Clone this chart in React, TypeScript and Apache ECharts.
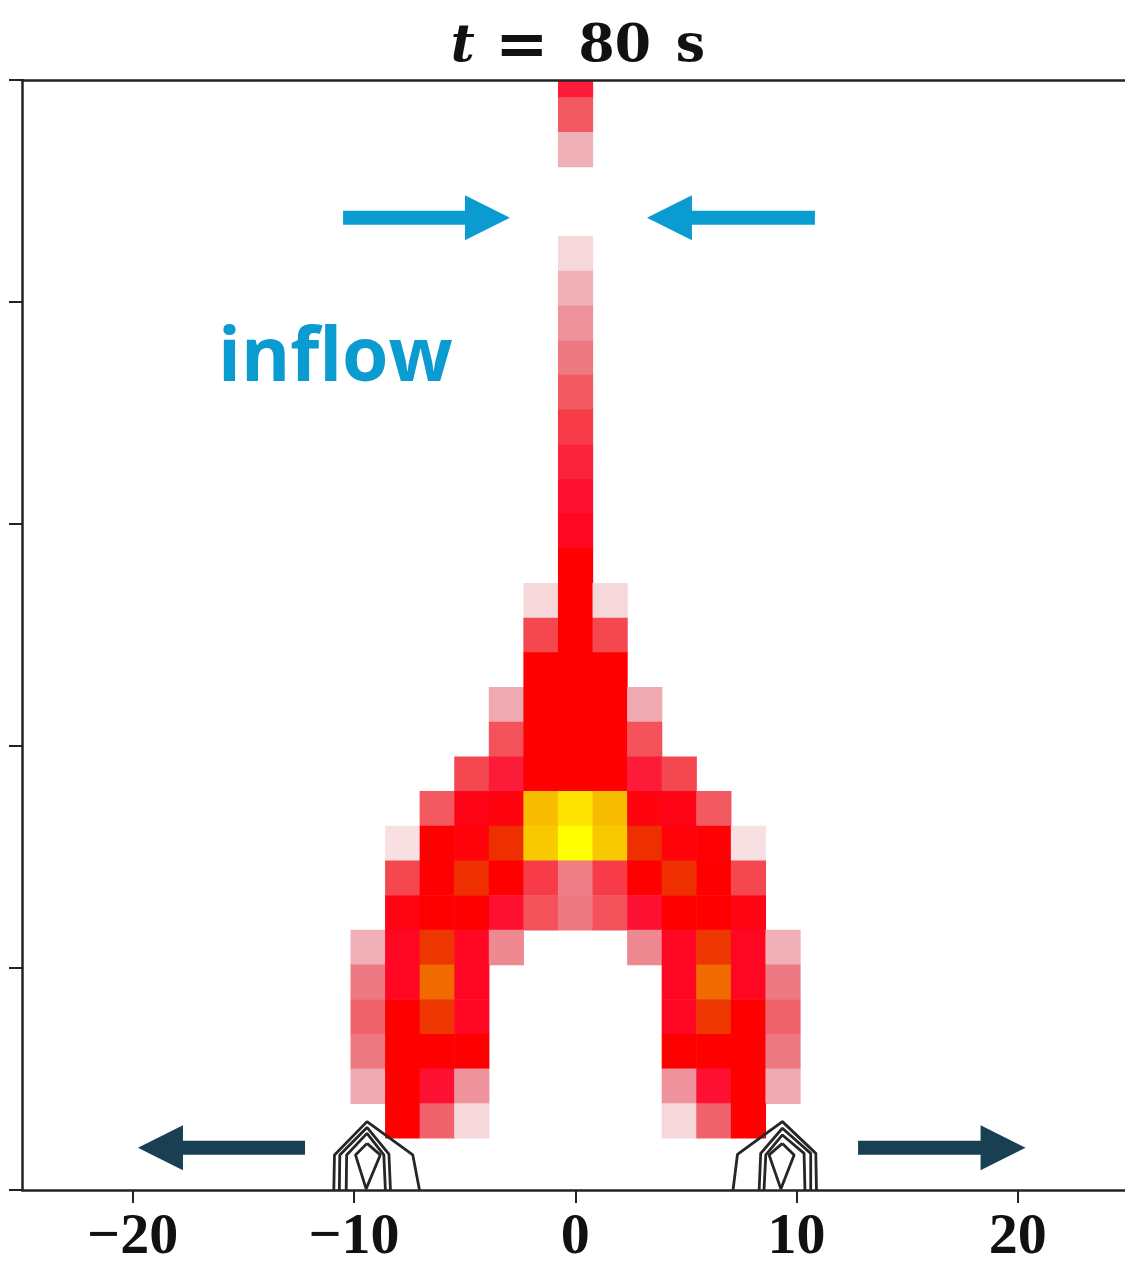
import React, { useEffect, useRef } from 'react';
import * as echarts from 'echarts';

// ---- data ----
const CELL = 1.5625; // cell size in data units

const xCenters = [-9.375, -7.8125, -6.25, -4.6875, -3.125, -1.5625, 0, 1.5625, 3.125, 4.6875, 6.25, 7.8125, 9.375];
const yCenters = [
  50, 48.4375, 46.875, 45.3125, 43.75, 42.1875, 40.625, 39.0625, 37.5, 35.9375, 34.375,
  32.8125, 31.25, 29.6875, 28.125, 26.5625, 25, 23.4375, 21.875, 20.3125, 18.75,
  17.1875, 15.625, 14.0625, 12.5, 10.9375, 9.375, 7.8125, 6.25, 4.6875, 3.125,
];
// intensity (0-100), rows from top (y=50) to bottom (y=3.125), columns from x=-9.375 to 9.375
const intensity = [
  [0, 0, 0, 0, 0, 0, 57, 0, 0, 0, 0, 0, 0],
  [0, 0, 0, 0, 0, 0, 45, 0, 0, 0, 0, 0, 0],
  [0, 0, 0, 0, 0, 0, 20, 0, 0, 0, 0, 0, 0],
  [0, 0, 0, 0, 0, 0, 0, 0, 0, 0, 0, 0, 0],
  [0, 0, 0, 0, 0, 0, 0, 0, 0, 0, 0, 0, 0],
  [0, 0, 0, 0, 0, 0, 10, 0, 0, 0, 0, 0, 0],
  [0, 0, 0, 0, 0, 0, 20, 0, 0, 0, 0, 0, 0],
  [0, 0, 0, 0, 0, 0, 29, 0, 0, 0, 0, 0, 0],
  [0, 0, 0, 0, 0, 0, 36, 0, 0, 0, 0, 0, 0],
  [0, 0, 0, 0, 0, 0, 45, 0, 0, 0, 0, 0, 0],
  [0, 0, 0, 0, 0, 0, 52, 0, 0, 0, 0, 0, 0],
  [0, 0, 0, 0, 0, 0, 56, 0, 0, 0, 0, 0, 0],
  [0, 0, 0, 0, 0, 0, 59, 0, 0, 0, 0, 0, 0],
  [0, 0, 0, 0, 0, 0, 63, 0, 0, 0, 0, 0, 0],
  [0, 0, 0, 0, 0, 0, 70, 0, 0, 0, 0, 0, 0],
  [0, 0, 0, 0, 0, 10, 70, 10, 0, 0, 0, 0, 0],
  [0, 0, 0, 0, 0, 50, 70, 50, 0, 0, 0, 0, 0],
  [0, 0, 0, 0, 0, 70, 70, 70, 0, 0, 0, 0, 0],
  [0, 0, 0, 0, 22, 70, 70, 70, 22, 0, 0, 0, 0],
  [0, 0, 0, 0, 47, 70, 70, 70, 47, 0, 0, 0, 0],
  [0, 0, 0, 50, 57, 70, 70, 70, 57, 50, 0, 0, 0],
  [0, 0, 45, 65, 67, 95, 98, 95, 67, 65, 45, 0, 0],
  [0, 8, 70, 68, 80, 96, 100, 96, 80, 68, 69, 8, 0],
  [0, 50, 70, 80, 70, 52, 35, 52, 70, 80, 70, 50, 0],
  [0, 66, 70, 70, 59, 47, 36, 47, 59, 70, 70, 66, 0],
  [20, 63, 81, 63, 32, 0, 0, 0, 32, 63, 81, 63, 20],
  [36, 63, 88, 63, 0, 0, 0, 0, 0, 63, 88, 63, 36],
  [42, 70, 81, 63, 0, 0, 0, 0, 0, 63, 81, 70, 42],
  [36, 70, 70, 70, 0, 0, 0, 0, 0, 70, 70, 70, 36],
  [22, 70, 59, 29, 0, 0, 0, 0, 0, 29, 59, 70, 22],
  [0, 70, 42, 10, 0, 0, 0, 0, 0, 10, 42, 70, 0],
];

const xTicks = [-20, -10, 0, 10, 20];

// arrows: [xStart, xTip, y]
const inflowArrows = [
  [-10.49, -2.95, 43.8],
  [10.83, 3.24, 43.8],
];
const outflowArrows = [
  [-12.21, -19.76, 1.9],
  [12.78, 20.35, 1.9],
];

// contour lines [x, y]
const leftOuter = [[-10.91, 0], [-10.88, 1.58], [-9.41, 3.08], [-7.34, 1.58], [-7.04, 0]];
const leftMid = [[-10.66, 0], [-10.64, 1.58], [-9.41, 2.82], [-8.42, 1.62], [-8.35, 0]];
const leftInner = [[-10.35, 0], [-10.33, 1.58], [-9.41, 2.55], [-8.65, 1.58], [-8.58, 0]];
const leftCore = [[-9.41, 2.1], [-8.81, 1.58], [-9.45, 0.05], [-9.93, 1.58], [-9.41, 2.1]];
const rightOuter = [[7.13, 0], [7.33, 1.6], [9.36, 3.08], [10.87, 1.65], [10.9, 0]];
const rightMid = [[8.31, 0], [8.38, 1.65], [9.36, 2.78], [10.64, 1.65], [10.64, 0]];
const rightInner = [[8.53, 0], [8.61, 1.58], [9.36, 2.48], [10.34, 1.65], [10.38, 0]];
const rightCore = [[9.36, 2.1], [9.89, 1.58], [9.29, 0.05], [8.76, 1.58], [9.36, 2.1]];
const contours = [leftOuter, leftMid, leftInner, leftCore, rightOuter, rightMid, rightInner, rightCore];

// ---- styles ----
const COLORMAP = [
  '#ffffff', '#f6d8db', '#efb1b7', '#ee9099', '#f06a73', '#f5474f',
  '#ff0a30', '#ff0000', '#ee3000', '#f07800', '#ffff00',
];
const BLUE = '#0a9bd0';
const DARK = '#193f52';
const AXIS = '#222222';
const SHAFT = 14;
const HEAD_LEN = 45;
const HEAD_W = 45;

function arrowRenderer(color: string) {
  return (params: any, api: any) => {
    const s = api.coord([api.value(0), api.value(2)]);
    const t = api.coord([api.value(1), api.value(2)]);
    const dir = t[0] > s[0] ? 1 : -1;
    const bx = t[0] - dir * HEAD_LEN;
    const cy = s[1];
    return {
      type: 'polygon',
      shape: {
        points: [
          [s[0], cy - SHAFT / 2], [bx, cy - SHAFT / 2], [bx, cy - HEAD_W / 2],
          [t[0], cy], [bx, cy + HEAD_W / 2], [bx, cy + SHAFT / 2], [s[0], cy + SHAFT / 2],
        ],
      },
      style: { fill: color },
    };
  };
}

export default function App() {
  const ref = useRef<HTMLDivElement>(null);
  useEffect(() => {
    if (!ref.current) return;
    const chart = echarts.init(ref.current, undefined, { renderer: 'svg' });

    const cellData: number[][] = [];
    yCenters.forEach((y, r) => {
      xCenters.forEach((x, c) => {
        const v = intensity[r][c];
        if (v > 0) cellData.push([x, y, v]);
      });
    });

    const axisLine = { show: true, onZero: false, lineStyle: { color: AXIS, width: 2.5 } };
    const labelFont = { fontFamily: 'Liberation Serif', fontWeight: 'bold' as const, fontSize: 58, color: '#111', lineHeight: 48 };
    const titleFont = { fontFamily: 'DejaVu Serif', fontWeight: 'bold' as const, fontSize: 52, fill: '#111' };

    const option: any = {
      animation: false,
      backgroundColor: '#ffffff',
      grid: { left: 22, width: 1106.5, top: 80, height: 1110 },
      visualMap: {
        type: 'continuous', show: false, seriesIndex: 0, dimension: 2, min: 0, max: 100,
        inRange: { color: COLORMAP },
      },
      xAxis: [
        {
          type: 'value', min: -25, max: 25,
          axisLine,
          axisTick: { show: true, customValues: xTicks, length: 13, lineStyle: { color: AXIS, width: 2 } },
          splitLine: { show: false },
          axisLabel: {
            customValues: xTicks,
            margin: 19,
            ...labelFont,
            formatter: (v: number) => (v < 0 ? `\u2212${-v}` : `${v}`),
          },
        },
        {
          type: 'value', position: 'top', min: -25, max: 25, z: 10,
          axisLine,
          axisTick: { show: false }, axisLabel: { show: false }, splitLine: { show: false },
        },
      ],
      yAxis: {
        type: 'value', min: 0, max: 50, interval: 10,
        axisLine,
        axisTick: { show: true, length: 13, lineStyle: { color: AXIS, width: 2 } },
        axisLabel: { show: false },
        splitLine: { show: false },
      },
      graphic: [
        {
          type: 'text', x: 578, y: 42, z: 20,
          style: {
            text: '{t|t}{eq|=}{n|80}{s|s}',
            align: 'center', verticalAlign: 'middle',
            ...titleFont,
            rich: {
              t: { ...titleFont, fontStyle: 'italic', padding: [0, 20, 0, 0] },
              eq: { ...titleFont, fontSize: 64, padding: [0, 30, 0, 0] },
              n: { ...titleFont, padding: [0, 25, 0, 0] },
              s: { ...titleFont },
            },
          },
        },
        {
          type: 'text', x: 218, y: 352, z: 20,
          style: {
            text: 'inflow', align: 'left', verticalAlign: 'middle',
            fontFamily: 'Open Sans', fontWeight: 'bold', fontSize: 75, fill: BLUE,
          },
        },
      ],
      series: [
        {
          type: 'custom',
          data: cellData,
          encode: { x: 0, y: 1 },
          z: 2,
          silent: true,
          renderItem: (params: any, api: any) => {
            const x = api.value(0) as number;
            const y = api.value(1) as number;
            const a = api.coord([x - CELL / 2, y + CELL / 2]);
            const b = api.coord([x + CELL / 2, y - CELL / 2]);
            const cs = params.coordSys;
            const shape = echarts.graphic.clipRectByRect(
              { x: a[0], y: a[1], width: b[0] - a[0] + 0.6, height: b[1] - a[1] + 0.6 },
              { x: cs.x, y: cs.y, width: cs.width, height: cs.height },
            );
            if (!shape) return null;
            return { type: 'rect', shape, style: { fill: api.visual('color') } };
          },
        },
        ...contours.map((c) => ({
          type: 'line',
          data: c,
          showSymbol: false,
          symbol: 'none',
          silent: true,
          z: 5,
          lineStyle: { color: '#262626', width: 2.8 },
        })),
        {
          type: 'custom', data: inflowArrows, encode: { x: [0, 1], y: 2 }, z: 6, silent: true,
          renderItem: arrowRenderer(BLUE),
        },
        {
          type: 'custom', data: outflowArrows, encode: { x: [0, 1], y: 2 }, z: 6, silent: true,
          renderItem: arrowRenderer(DARK),
        },
      ],
    };
    chart.setOption(option);
    return () => chart.dispose();
  }, []);

  return (
    <div
      ref={ref}
      style={{ position: 'fixed', left: 0, top: 0, width: 1129, height: 1266, background: '#fff' }}
    />
  );
}
